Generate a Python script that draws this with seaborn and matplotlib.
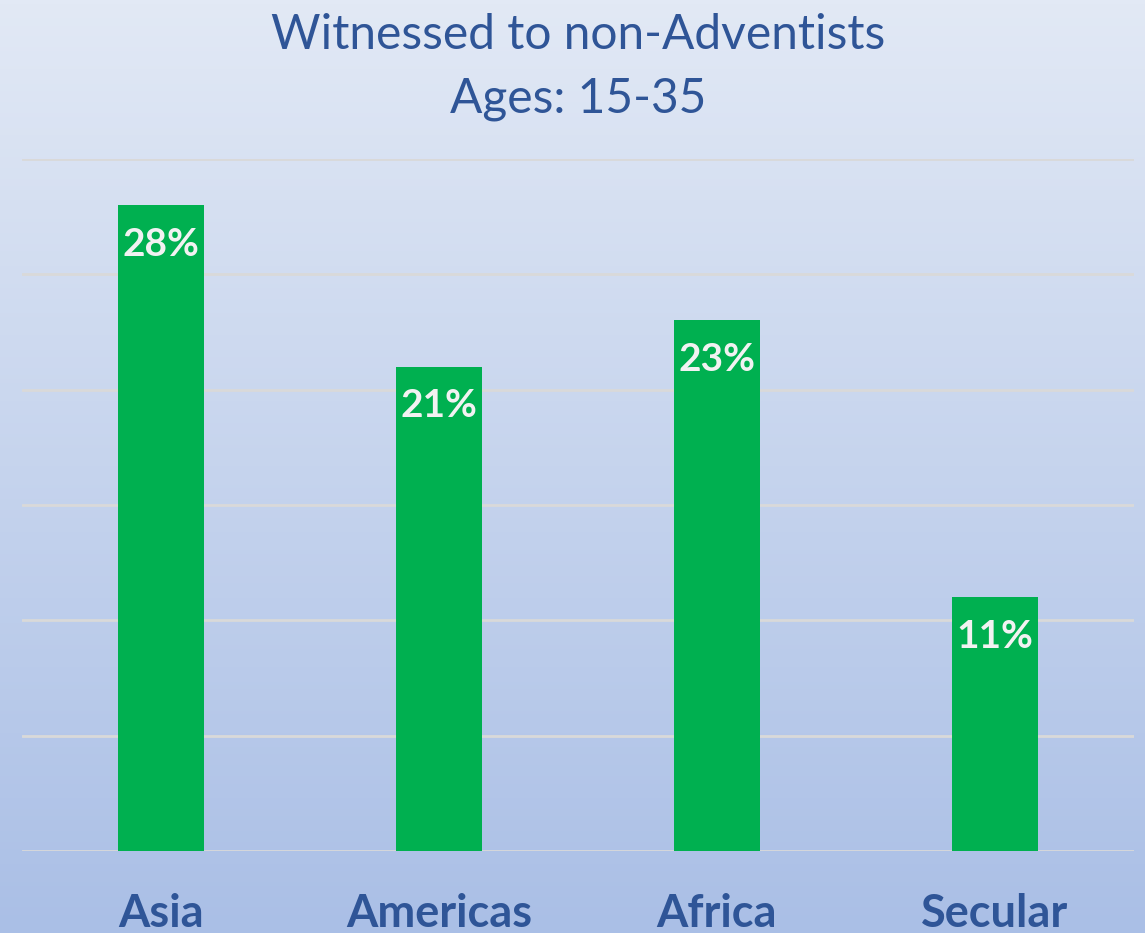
import numpy as np
import seaborn as sns
import matplotlib.pyplot as plt
from matplotlib.colors import LinearSegmentedColormap

# Datos
regions = ['Asia', 'Americas', 'Africa', 'Secular']
values = [28, 21, 23, 11]
labels = ['28%', '21%', '23%', '11%']

title_blue = '#2f5597'
bar_green = '#00b050'

sns.set_theme(style='white')
plt.rcParams['font.family'] = ['Lato', 'DejaVu Sans']

fig = plt.figure(figsize=(11.45, 9.33), dpi=100)

# Fondo con degradado
bg = fig.add_axes([0, 0, 1, 1], zorder=-1)
cmap = LinearSegmentedColormap.from_list('bg', ['#e2e9f5', '#aabfe6'])
grad = np.linspace(0, 1, 256).reshape(-1, 1)
bg.imshow(grad, aspect='auto', cmap=cmap, extent=[0, 1, 0, 1], origin='upper')
bg.axis('off')

ax = fig.add_axes([22 / 1145, 82 / 933, 1112 / 1145, 692 / 933])
ax.set_facecolor('none')

sns.barplot(x=regions, y=values, color=bar_green, saturation=1, width=0.31,
            linewidth=0, ax=ax, zorder=3)

ax.set_ylim(0, 30)
ax.set_xlim(-0.5, 3.5)
ax.set_yticks(np.arange(0, 31, 5))
ax.yaxis.grid(True, color='#d9d9d9', linewidth=2)
ax.set_axisbelow(True)
ax.tick_params(axis='y', left=False, labelleft=False)
ax.tick_params(axis='x', bottom=False, pad=24, labelsize=32.5, labelcolor=title_blue)
for t in ax.get_xticklabels():
    t.set_fontweight('bold')
for s in ax.spines.values():
    s.set_visible(False)
ax.set_xlabel('')
ax.set_ylabel('')

# Etiquetas de valor
for i, (v, lab) in enumerate(zip(values, labels)):
    ax.annotate(lab, (i, v), xytext=(0, -15.5), textcoords='offset points',
                ha='center', va='top', color='#f2f2f2', fontsize=28, fontweight='bold')

fig.text(0.505, 0.963, 'Witnessed to non-Adventists', ha='center', va='center',
         fontsize=34.5, color=title_blue)
fig.text(0.505, 0.894, 'Ages: 15-35', ha='center', va='center',
         fontsize=34.5, color=title_blue)

fig.savefig('out.png', dpi=100)
